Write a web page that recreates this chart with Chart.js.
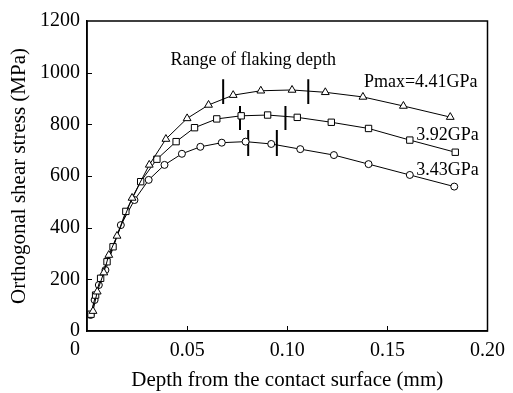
<!DOCTYPE html>
<html>
<head>
<meta charset="utf-8">
<script src="https://cdn.jsdelivr.net/npm/chart.js@4.4.0/dist/chart.umd.min.js"></script>
<style>
    html, body { margin: 0; padding: 0; background: #fff; }
    #wrap { width: 513px; height: 393px; }
</style>
</head>
<body>
<div id="wrap"><canvas id="shearChart" width="513" height="393"></canvas></div>
<script>
// depth (mm) and stress (MPa)
const depth441 = [0.0030, 0.0051, 0.0084, 0.0109, 0.0150, 0.0225, 0.0311, 0.0394, 0.0500, 0.0607, 0.0730, 0.0868, 0.1024, 0.1190, 0.1378, 0.1580, 0.1814];
const stress441 = [77, 152, 226, 294, 368, 515, 643, 743, 823, 875, 913, 930, 933, 924, 906, 871, 828];

const depth392 = [0.0020, 0.0043, 0.0068, 0.0100, 0.0130, 0.0194, 0.0268, 0.0349, 0.0445, 0.0537, 0.0648, 0.0770, 0.0902, 0.1050, 0.1220, 0.1406, 0.1612, 0.1839];
const stress392 = [65, 139, 204, 268, 326, 463, 578, 665, 733, 787, 821, 833, 836, 827, 808, 784, 739, 692];

const depth343 = [0.0018, 0.0038, 0.0059, 0.0092, 0.0169, 0.0237, 0.0308, 0.0387, 0.0474, 0.0566, 0.0673, 0.0792, 0.0920, 0.1065, 0.1233, 0.1406, 0.1612, 0.1834];
const stress343 = [62, 120, 178, 236, 410, 507, 585, 643, 686, 713, 729, 733, 724, 704, 681, 646, 604, 559];

// range of flaking depth marks: [start, end] depth and the bar's stress span
const flake441 = [0.068, 0.1105];
const flake392 = [0.0764, 0.0991];
const flake343 = [0.0805, 0.0948];
const flakeSpan441 = [879, 975];
const flakeSpan392 = [778, 871];
const flakeSpan343 = [677, 778];

const seriesLabels = ['Pmax=4.41GPa', '3.92GPa', '3.43GPa'];
const xTicks = [0, 0.05, 0.10, 0.15, 0.20];
const yTicks = [0, 200, 400, 600, 800, 1000, 1200];

const FONT = 'Liberation Serif, Times New Roman, serif';

function toPoints(xs, ys) {
    return xs.map((x, i) => ({ x: x, y: ys[i] }));
}

function series(label, xs, ys, style, radius) {
    return {
        label: label,
        data: toPoints(xs, ys),
        showLine: true,
        borderColor: '#000',
        borderWidth: 1,
        pointStyle: style,
        pointRadius: radius,
        pointBackgroundColor: '#fff',
        pointBorderColor: '#000',
        pointBorderWidth: 1
    };
}

function flakeBars(xs, span) {
    const pts = [];
    xs.forEach((x, i) => {
        pts.push({ x: x, y: span[0] }, { x: x, y: span[1] });
        if (i < xs.length - 1) pts.push({ x: x, y: null });
    });
    return {
        label: 'flake',
        data: pts,
        showLine: true,
        spanGaps: false,
        borderColor: '#000',
        borderWidth: 2,
        pointRadius: 0
    };
}

const framePlugin = {
    id: 'frame',
    afterDatasetsDraw(chart) {
        const { ctx, chartArea: a, scales: { x, y } } = chart;
        ctx.save();
        ctx.strokeStyle = '#000';
        ctx.lineWidth = 1.5;
        ctx.strokeRect(a.left, a.top, a.right - a.left, a.bottom - a.top);

        // inward ticks
        ctx.lineWidth = 1;
        ctx.beginPath();
        xTicks.slice(1, -1).forEach(v => {
            const px = Math.round(x.getPixelForValue(v)) + 0.5;
            ctx.moveTo(px, a.bottom);
            ctx.lineTo(px, a.bottom - 5);
        });
        yTicks.slice(1, -1).forEach(v => {
            const py = Math.round(y.getPixelForValue(v)) + 0.5;
            ctx.moveTo(a.left, py);
            ctx.lineTo(a.left + 5, py);
        });
        ctx.stroke();

        ctx.fillStyle = '#000';
        // origin label of the x axis sits left of the frame
        ctx.font = '20px ' + FONT;
        ctx.textAlign = 'center';
        ctx.textBaseline = 'top';
        ctx.fillText('0', a.left - 12, a.bottom + 9);

        ctx.font = '18px ' + FONT;
        ctx.textBaseline = 'middle';
        ctx.fillText('Range of flaking depth', x.getPixelForValue(0.083), y.getPixelForValue(1049));
        ctx.textAlign = 'left';
        ctx.fillText(seriesLabels[0], x.getPixelForValue(0.1383), y.getPixelForValue(964));
        ctx.fillText(seriesLabels[1], x.getPixelForValue(0.1644), y.getPixelForValue(759));
        ctx.fillText(seriesLabels[2], x.getPixelForValue(0.1644), y.getPixelForValue(623));
        ctx.restore();
    }
};

const ctx = document.getElementById('shearChart').getContext('2d');
// eslint-disable-next-line no-undef
new Chart(ctx, {
    type: 'scatter',
    data: {
        datasets: [
            series(seriesLabels[0], depth441, stress441, 'triangle', 4.5),
            series(seriesLabels[1], depth392, stress392, 'rect', 4.5),
            series(seriesLabels[2], depth343, stress343, 'circle', 3.5),
            flakeBars(flake441, flakeSpan441),
            flakeBars(flake392, flakeSpan392),
            flakeBars(flake343, flakeSpan343)
        ]
    },
    options: {
        responsive: false,
        animation: false,
        layout: { padding: { top: 21, right: 21, left: 0, bottom: 0 } },
        plugins: {
            legend: { display: false },
            tooltip: { enabled: false }
        },
        scales: {
            x: {
                type: 'linear',
                min: 0,
                max: 0.2,
                afterFit: s => { s.height = 62; },
                afterBuildTicks: s => { s.ticks = xTicks.map(v => ({ value: v })); },
                grid: { display: false, drawTicks: false },
                border: { display: true, color: '#000', width: 1.5 },
                ticks: {
                    padding: 8,
                    color: '#000',
                    font: { family: FONT, size: 20 },
                    callback: v => (v === 0 ? '' : v.toFixed(2))
                },
                title: {
                    display: true,
                    text: 'Depth from the contact surface (mm)',
                    color: '#000',
                    font: { family: FONT, size: 21 },
                    padding: { top: 0, bottom: 0 }
                }
            },
            y: {
                type: 'linear',
                min: 0,
                max: 1200,
                afterFit: s => { s.width = 87; },
                afterBuildTicks: s => { s.ticks = yTicks.map(v => ({ value: v })); },
                grid: { display: false, drawTicks: false },
                border: { display: true, color: '#000', width: 1.5 },
                ticks: {
                    padding: 7,
                    color: '#000',
                    font: { family: FONT, size: 20 },
                    callback: v => String(v)
                },
                title: {
                    display: true,
                    text: 'Orthogonal shear stress (MPa)',
                    color: '#000',
                    font: { family: FONT, size: 21 },
                    padding: { top: 7, bottom: 0 }
                }
            }
        }
    },
    plugins: [framePlugin]
});
</script>
</body>
</html>
